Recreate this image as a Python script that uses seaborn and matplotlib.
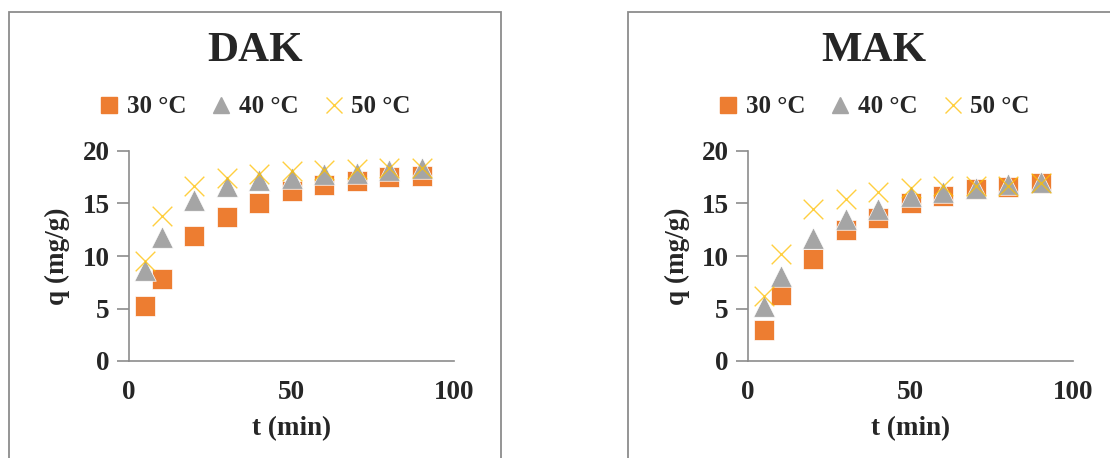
import matplotlib
matplotlib.use("Agg")
import matplotlib.pyplot as plt
import seaborn as sns
import pandas as pd
from matplotlib.lines import Line2D
from matplotlib.patches import Rectangle

# ---- data ----
t_min = [5, 10, 20, 30, 40, 50, 60, 70, 80, 90]
dak_30 = [5.2, 7.8, 11.9, 13.7, 15.0, 16.2, 16.75, 17.15, 17.5, 17.65]
dak_40 = [8.7, 11.8, 15.3, 16.7, 17.2, 17.45, 17.85, 17.95, 18.15, 18.4]
dak_50 = [9.5, 13.85, 16.65, 17.4, 17.85, 18.05, 18.15, 18.25, 18.4, 18.35]
mak_30 = [3.0, 6.3, 9.7, 12.5, 13.65, 15.05, 15.75, 16.4, 16.6, 16.95]
mak_40 = [5.2, 8.05, 11.7, 13.5, 14.5, 15.7, 16.1, 16.5, 16.9, 17.05]
mak_50 = [6.2, 10.2, 14.45, 15.4, 16.1, 16.5, 16.65, 16.65, 16.7, 16.95]
series_labels = ["30 °C", "40 °C", "50 °C"]
panel_titles = ["DAK", "MAK"]
x_ticks = [0, 50, 100]
y_ticks = [0, 5, 10, 15, 20]

colors = ["#ED7D31", "#A5A5A5", "#FFC000"]
markers = ["s", "^", "x"]

sns.set_theme(style="white")
plt.rcParams["font.family"] = ["Liberation Serif", "DejaVu Serif"]
plt.rcParams["font.weight"] = "bold"

W, H = 1110, 458
fig = plt.figure(figsize=(W / 100, H / 100), dpi=100)
fig.patch.set_facecolor("white")

def fx(px):
    return px / W

def fy(py):
    return 1 - py / H

# panel frames (Excel chart areas)
fig.patches.append(Rectangle((fx(9), fy(470)), fx(501 - 9), (470 - 12) / H,
                             transform=fig.transFigure, fill=False,
                             edgecolor="#8C8C8C", linewidth=1.3))
fig.patches.append(Rectangle((fx(628), fy(470)), fx(1140 - 628), (470 - 12) / H,
                             transform=fig.transFigure, fill=False,
                             edgecolor="#8C8C8C", linewidth=1.3))

panels = [
    (panel_titles[0], [dak_30, dak_40, dak_50], 129),
    (panel_titles[1], [mak_30, mak_40, mak_50], 748),
]

TICK = 19.5
for title, data, left_px in panels:
    ax = fig.add_axes([fx(left_px), fy(361), fx(325), (361 - 151) / H])
    for vals, lab, c, m in zip(data, series_labels, colors, markers):
        df = pd.DataFrame({"t": t_min, "q": vals})
        if m == "x":
            sns.scatterplot(data=df, x="t", y="q", ax=ax, marker="x", color=c,
                            s=200, linewidth=1.0, alpha=0.75, zorder=3)
        else:
            sns.scatterplot(data=df, x="t", y="q", ax=ax, marker=m, color=c,
                            s=210 if m == "s" else 240, edgecolor="white",
                            linewidth=0.5, zorder=2)
    ax.set_xlim(0, 100)
    ax.set_ylim(0, 20)
    ax.set_xticks(x_ticks)
    ax.set_yticks(y_ticks)
    for s in ["top", "right"]:
        ax.spines[s].set_visible(False)
    for s in ["left", "bottom"]:
        ax.spines[s].set_color("#8C8C8C")
        ax.spines[s].set_linewidth(1.2)
    ax.tick_params(axis="y", which="both", left=True, length=9, width=1.2,
                   color="#8C8C8C", labelsize=TICK, pad=5)
    ax.tick_params(axis="x", which="both", bottom=False, labelsize=TICK, pad=8)
    for lbl in ax.get_xticklabels() + ax.get_yticklabels():
        lbl.set_fontweight("bold")
    ax.set_xlabel("t (min)", fontsize=TICK, fontweight="bold")
    ax.set_ylabel("q (mg/g)", fontsize=TICK, fontweight="bold")
    ax.xaxis.set_label_coords(0.5, -0.262)
    ax.yaxis.set_label_coords(-0.18, 0.5)
    ax.set_facecolor("white")

    # title
    cx = left_px + 126
    fig.text(fx(cx), fy(51), title, ha="center", va="center",
             fontsize=31, fontweight="bold")

    # legend
    handles = [
        Line2D([], [], linestyle="none", marker="s", color=colors[0],
               markersize=12),
        Line2D([], [], linestyle="none", marker="^", color=colors[1],
               markersize=12),
        Line2D([], [], linestyle="none", marker="x", color=colors[2],
               markersize=12, markeredgewidth=1.0, alpha=0.75),
    ]
    fig.legend(handles, series_labels, loc="center",
               bbox_to_anchor=(fx(cx), fy(107)), ncol=3, frameon=False,
               prop={"size": 18, "weight": "bold"}, handlelength=0.8,
               handletextpad=0.3, columnspacing=1.0, borderaxespad=0)

fig.savefig("out.png", dpi=100, facecolor="white")
